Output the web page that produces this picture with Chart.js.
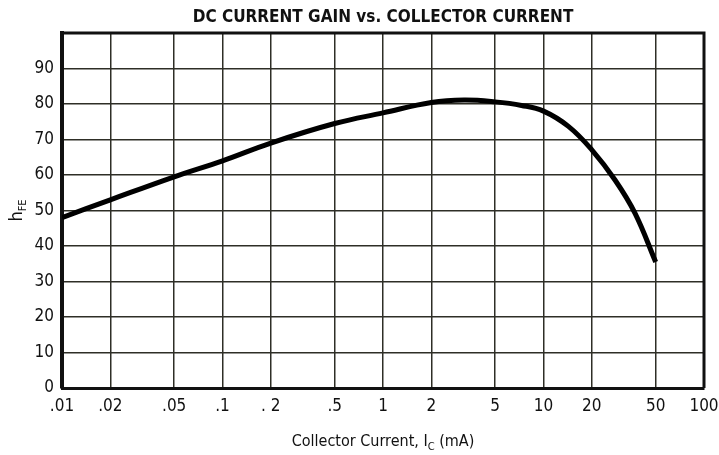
<!DOCTYPE html>
<html>
<head>
  <title>DC Current Gain vs. Collector Current</title>
  <script src="https://cdn.jsdelivr.net/npm/chart.js"></script>
  <style>
    body { margin: 0; background: #fff; }
    #wrap { width: 719px; height: 455px; }
  </style>
</head>
<body>
  <div id="wrap"><canvas id="gainChart"></canvas></div>

  <script>
    // tick positions and labels
    const xTicks = [0.01, 0.02, 0.05, 0.1, 0.2, 0.5, 1, 2, 5, 10, 20, 50, 100];
    const xTickLabels = ['.01', '.02', '.05', '.1', '. 2', '.5', '1', '2', '5', '10', '20', '50', '100'];
    const yTicks = [0, 10, 20, 30, 40, 50, 60, 70, 80, 90, 100];

    // curve: Ic (mA) -> hFE
    const current = [0.01, 0.02, 0.05, 0.1, 0.2, 0.5, 1, 2, 3.2, 5, 7.3, 10, 14.3, 20, 27.9, 37.2, 50];
    const gain = [48, 53, 59.5, 64, 69, 74.5, 77.5, 80.4, 81.1, 80.6, 79.6, 78, 73.7, 67.1, 58.6, 49.2, 35.5];

    const font = "'DejaVu Sans Condensed', 'DejaVu Sans', sans-serif";
    const gridColor = '#2e2e26';

    // title, axis titles (with subscripts) and the top/right frame
    const textPlugin = {
      id: 'textPlugin',
      afterDraw(chart) {
        const ctx = chart.ctx;
        const a = chart.chartArea;
        ctx.save();
        ctx.fillStyle = '#111';
        ctx.textBaseline = 'alphabetic';

        ctx.font = 'bold 17px ' + font;
        ctx.textAlign = 'center';
        ctx.fillText('DC CURRENT GAIN vs. COLLECTOR CURRENT', (a.left + a.right) / 2, 22);

        // x title: Collector Current, I_C (mA)
        ctx.textAlign = 'left';
        const big = '16px ' + font, small = '11px ' + font;
        const parts = [['Collector Current, I', big, 0], ['C', small, 4], [' (mA)', big, 0]];
        let w = 0;
        parts.forEach(p => { ctx.font = p[1]; w += ctx.measureText(p[0]).width; });
        let x = (a.left + a.right) / 2 - w / 2;
        parts.forEach(p => {
          ctx.font = p[1];
          ctx.fillText(p[0], x, 446 + p[2]);
          x += ctx.measureText(p[0]).width;
        });

        // y title: hFE rotated
        ctx.translate(22, (a.top + a.bottom) / 2);
        ctx.rotate(-Math.PI / 2);
        const yp = [['h', '18px ' + font, 0], ['FE', '11px ' + font, 4]];
        w = 0;
        yp.forEach(p => { ctx.font = p[1]; w += ctx.measureText(p[0]).width; });
        x = -w / 2;
        yp.forEach(p => {
          ctx.font = p[1];
          ctx.fillText(p[0], x, p[2]);
          x += ctx.measureText(p[0]).width;
        });
        ctx.restore();

        ctx.save();
        ctx.strokeStyle = '#111';
        ctx.lineWidth = 3;
        ctx.beginPath();
        ctx.moveTo(a.left, a.top);
        ctx.lineTo(a.right, a.top);
        ctx.lineTo(a.right, a.bottom);
        ctx.stroke();
        ctx.restore();
      }
    };

    new Chart(document.getElementById('gainChart'), {
      type: 'line',
      data: {
        datasets: [{
          data: current.map((c, i) => ({ x: c, y: gain[i] })),
          borderColor: '#000',
          borderWidth: 5,
          pointRadius: 0,
          tension: 0.4,
          fill: false
        }]
      },
      options: {
        responsive: true,
        maintainAspectRatio: false,
        animation: false,
        layout: { padding: { top: 33, right: 0, left: 0, bottom: 0 } },
        plugins: { legend: { display: false }, title: { display: false }, tooltip: { enabled: false } },
        scales: {
          x: {
            type: 'logarithmic',
            min: 0.01,
            max: 100,
            afterBuildTicks: s => { s.ticks = xTicks.map(v => ({ value: v })); },
            afterFit: s => { s.height = 67; s.paddingRight = 15; s.paddingLeft = 0; },
            grid: { color: gridColor, lineWidth: 1.5, drawTicks: false },
            border: { color: '#111', width: 3 },
            ticks: {
              autoSkip: false,
              maxRotation: 0,
              padding: 8,
              color: '#111',
              font: { family: font, size: 17 },
              callback: (v, i) => xTickLabels[i]
            }
          },
          y: {
            min: 0,
            max: 100,
            afterBuildTicks: s => { s.ticks = yTicks.map(v => ({ value: v })); },
            afterFit: s => { s.width = 62; },
            grid: { color: gridColor, lineWidth: 1.5, drawTicks: false },
            border: { color: '#111', width: 4 },
            ticks: {
              padding: 8,
              color: '#111',
              font: { family: font, size: 17 },
              callback: v => v === 100 ? '' : v
            }
          }
        }
      },
      plugins: [textPlugin]
    });
  </script>
</body>
</html>
